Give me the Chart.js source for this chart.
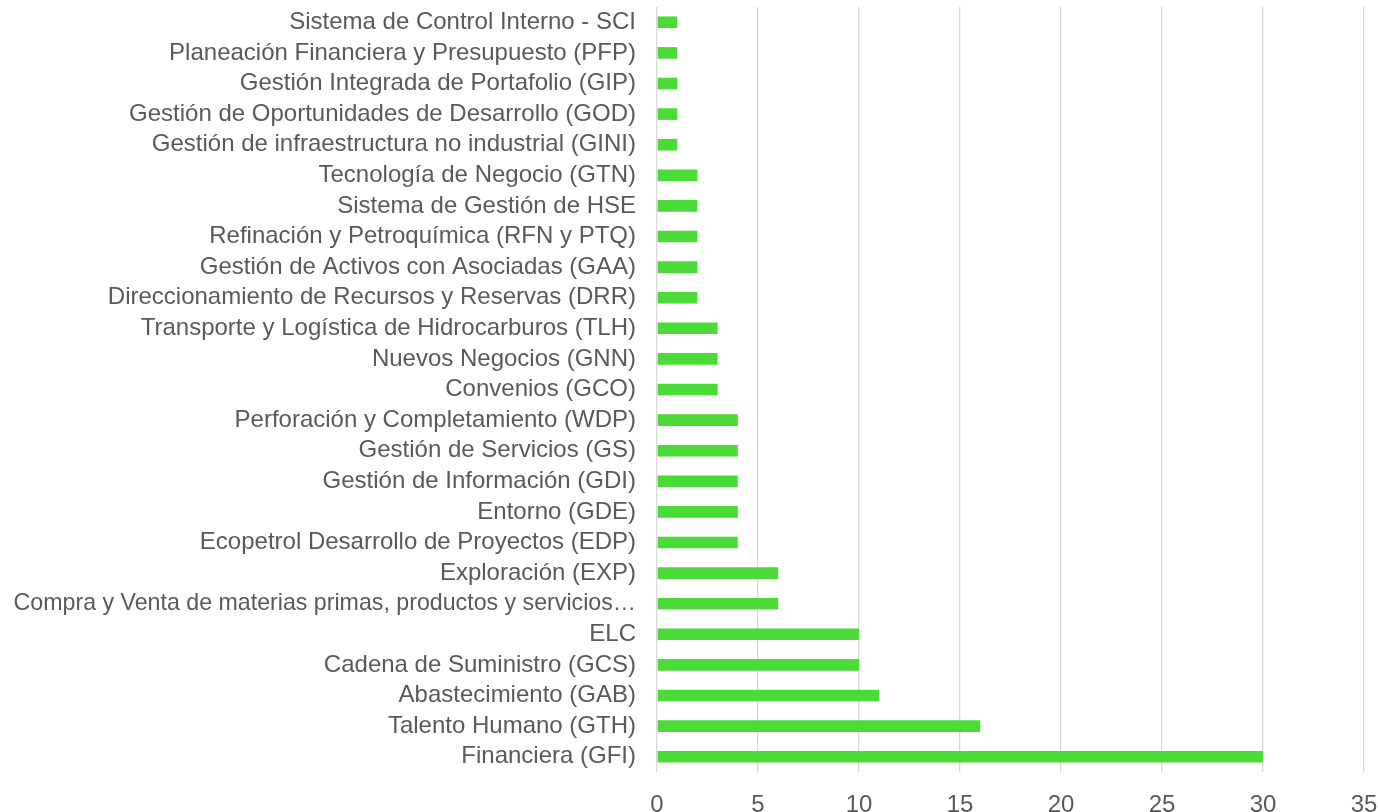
<!DOCTYPE html>
<html>
<head>
<meta charset="utf-8">
<script src="https://cdn.jsdelivr.net/npm/chart.js@4/dist/chart.umd.min.js"></script>
<style>
html,body{margin:0;padding:0;background:#fff;}
#wrap{width:1378px;height:812px;position:relative;}
</style>
</head>
<body>
<div id="wrap"><canvas id="c"></canvas></div>
<script>
const categories = [
  "Sistema de Control Interno - SCI",
  "Planeación Financiera y Presupuesto (PFP)",
  "Gestión Integrada de Portafolio (GIP)",
  "Gestión de Oportunidades de Desarrollo (GOD)",
  "Gestión de infraestructura no industrial (GINI)",
  "Tecnología de Negocio (GTN)",
  "Sistema de Gestión de HSE",
  "Refinación y Petroquímica (RFN y PTQ)",
  "Gestión de Activos con Asociadas (GAA)",
  "Direccionamiento de Recursos y Reservas (DRR)",
  "Transporte y Logística de Hidrocarburos (TLH)",
  "Nuevos Negocios (GNN)",
  "Convenios (GCO)",
  "Perforación y Completamiento (WDP)",
  "Gestión de Servicios (GS)",
  "Gestión de Información (GDI)",
  "Entorno (GDE)",
  "Ecopetrol Desarrollo de Proyectos (EDP)",
  "Exploración (EXP)",
  "Compra y Venta de materias primas, productos y servicios…",
  "ELC",
  "Cadena de Suministro (GCS)",
  "Abastecimiento (GAB)",
  "Talento Humano (GTH)",
  "Financiera (GFI)"
];
const values = [1,1,1,1,1,2,2,2,2,2,3,3,3,4,4,4,4,4,6,6,10,10,11,16,30];
const xMin = 0, xMax = 35, xStep = 5;

const FONT = "'Liberation Sans', Arial, sans-serif";
new Chart(document.getElementById('c'), {
  type: 'bar',
  data: {
    labels: categories,
    datasets: [{
      data: values,
      backgroundColor: '#4ADB36',
      borderWidth: 0,
      categoryPercentage: 1.0,
      barPercentage: 0.38
    }]
  },
  options: {
    indexAxis: 'y',
    responsive: true,
    maintainAspectRatio: false,
    animation: false,
    layout: { padding: { top: 7, right: 14, left: 0, bottom: 0 } },
    plugins: { legend: { display: false }, tooltip: { enabled: false } },
    scales: {
      x: {
        min: xMin, max: xMax,
        ticks: { stepSize: xStep, color: '#595959', font: { family: FONT, size: 24 }, padding: 19, maxRotation: 0 },
        grid: { color: '#D9D9D9', lineWidth: 1.3, drawTicks: false },
        border: { display: false },
        afterFit: (s) => { s.height = 40; s.paddingLeft = 0; s.paddingRight = 0; }
      },
      y: {
        ticks: {
          color: '#595959',
          font: (ctx) => ({ family: FONT, size: (ctx.index === 19 ? 23.2 : 24) }),
          padding: 21, autoSkip: false
        },
        grid: { display: false, drawTicks: false },
        border: { display: false },
        afterFit: (s) => { s.width = 657; s.paddingTop = 0; s.paddingBottom = 0; }
      }
    }
  }
});
</script>
</body>
</html>
